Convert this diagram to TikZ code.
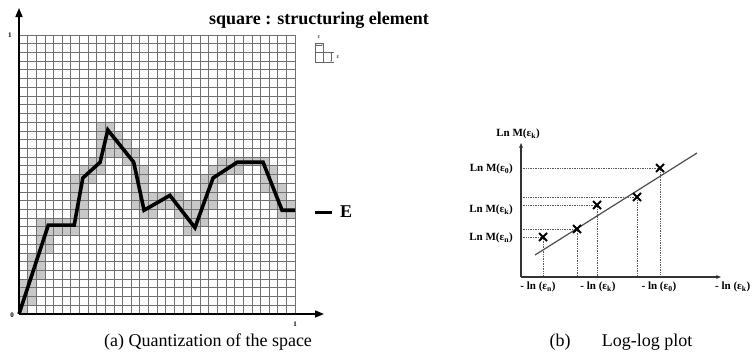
\documentclass[tikz,border=0pt]{standalone}
\usepackage{fontspec}
\setmainfont{Liberation Serif}
\usetikzlibrary{arrows.meta}
\definecolor{cellgray}{HTML}{C8C8C8}
\definecolor{gridgray}{HTML}{707070}
\begin{document}
\begin{tikzpicture}[x=1pt,y=-1pt,
  gridline/.style={gridgray,line width=0.75pt},
  curve/.style={black,line width=3.6pt,line join=miter,miter limit=4},
  axisA/.style={black,line width=1.6pt,-{Triangle[length=9pt,width=7pt]}},
  axisB/.style={black!80,line width=1.1pt,-{Stealth[length=5pt,width=4pt]}},
  dotline/.style={black!65,line width=0.7pt,densely dotted},
  regline/.style={black!70,line width=1.2pt},
  xmark/.style={black,line width=1.8pt},
  capt/.style={font=\fontsize{18}{20}\selectfont,inner sep=0pt,anchor=base},
  lbl/.style={font=\bfseries\fontsize{11}{12}\selectfont,inner sep=0pt},
  ticklbl/.style={font=\bfseries\fontsize{7}{8}\selectfont,inner sep=0pt},
  tinylbl/.style={font=\fontsize{6}{7}\selectfont,inner sep=0pt},
  elem/.style={black!60,line width=0.5pt}]
\useasboundingbox (0,0) rectangle (752,354);

% ---------- left panel: quantized space ----------
\begin{scope}[shift={(19,314)}]
\begin{scope}[x=8.625pt,y=8.72pt]
  % gray cells covered by the curve (slightly dilated)
  \foreach \ax/\ay/\bx/\by in {0/0/3.4/10.2, 3.4/10.2/6.4/10.2, 6.4/10.2/7.4/15.6,
      7.4/15.6/9.4/17.4, 9.4/17.4/10.3/21.1, 10.3/21.1/13.3/17.4, 13.3/17.4/14.5/11.9,
      14.5/11.9/17.5/13.6, 17.5/13.6/20.4/9.9, 20.4/9.9/22.5/15.6, 22.5/15.6/25.3/17.4,
      25.3/17.4/28.3/17.4, 28.3/17.4/30.5/11.9, 30.5/11.9/32/11.9} {
    \foreach \t in {0,0.05,...,1.0} {
      \foreach \dx/\dy in {-0.35/-0.35, 0.35/0.35, -0.35/0.35, 0.35/-0.35} {
        \pgfmathsetmacro\ci{max(0,min(31,floor(\ax+\t*(\bx-\ax)+\dx)))}
        \pgfmathsetmacro\cj{max(0,min(31,floor(\ay+\t*(\by-\ay)+\dy)))}
        \fill[cellgray] (\ci,\cj) rectangle ++(1,1);
      }
    }
  }
  % grid
  \foreach \k in {0,...,32} {
    \draw[gridline] (\k,0) -- (\k,32);
    \draw[gridline] (0,\k) -- (32,\k);
  }
  % curve E
  \draw[curve] (0,0) -- (3.4,10.2) -- (6.4,10.2) -- (7.4,15.6) -- (9.4,17.4) -- (10.3,21.1)
     -- (13.3,17.4) -- (14.5,11.9) -- (17.5,13.6) -- (20.4,9.9) -- (22.5,15.6)
     -- (25.3,17.4) -- (28.3,17.4) -- (30.5,11.9) -- (32,11.9);
\end{scope}
\end{scope}

\coordinate (orig) at (19,314);
\coordinate (ytop) at (19,8);
\coordinate (xend) at (324,314);
\draw[axisA] (orig) -- (ytop);
\draw[axisA] (orig) -- (xend);
\node[ticklbl] (one-y) at (10,35) {1};
\node[ticklbl] (zero) at (12,315) {0};
\node[ticklbl] (one-x) at (295,324) {1};

% E legend
\coordinate (e1) at (315,212);
\coordinate (e2) at (332,212);
\draw[black,line width=3pt] (e1) -- (e2);
\node[font=\bfseries\fontsize{18}{20}\selectfont,inner sep=0pt,anchor=west] (E) at (340,212) {E};

% title and structuring element
\node[capt,font=\bfseries\fontsize{18}{20}\selectfont] (title) at (319,24) {square : structuring element};
\draw[elem] (315,43) rectangle (323,62);
\draw[elem] (315,52) -- (334,52);
\draw[elem] (323,62) -- (334,62);
\draw[elem,{Stealth[length=1.5pt]}-{Stealth[length=1.5pt]}] (315,45) -- (323,45);
\draw[elem,{Stealth[length=1.5pt]}-{Stealth[length=1.5pt]}] (331,52) -- (331,62);
\node[tinylbl] (eps1) at (319,37) {ε};
\node[tinylbl] (eps2) at (338,57) {ε};

\node[capt] (capA) at (208,346) {(a) Quantization of the space};

% ---------- right panel: log-log plot ----------
\coordinate (O) at (521,277);
\coordinate (yt) at (521,143);
\coordinate (xt) at (721,277);
\coordinate (c1) at (543,237);
\coordinate (c2) at (577,229);
\coordinate (c3) at (597,205);
\coordinate (c4) at (637,197);
\coordinate (c5) at (660,168);
\coordinate (r1) at (535,255);
\coordinate (r2) at (697,153);

\foreach \c in {c1,c2,c3,c4,c5} {
  \draw[dotline] (O |- \c) -- (\c) -- (\c |- O);
}
\draw[regline] (r1) -- (r2);
\foreach \c in {c1,c2,c3,c4,c5} {
  \draw[xmark] ([shift={(-4,-4)}]\c) -- ([shift={(4,4)}]\c);
  \draw[xmark] ([shift={(-4,4)}]\c) -- ([shift={(4,-4)}]\c);
}
\draw[axisB] (O) -- (yt);
\draw[axisB] (O) -- (xt);

\node[lbl] (ylab) at (518,134) {Ln M(ε\textsubscript{k})};
\node[lbl,anchor=east] (l0) at (513,169) {Ln M(ε\textsubscript{0})};
\node[lbl,anchor=east] (lk) at (513,210) {Ln M(ε\textsubscript{k})};
\node[lbl,anchor=east] (ln) at (513,238) {Ln M(ε\textsubscript{n})};

\node[lbl] (bn) at (538,287) {- ln (ε\textsubscript{n})};
\node[lbl] (bk) at (598,287) {- ln (ε\textsubscript{k})};
\node[lbl] (b0) at (659,287) {- ln (ε\textsubscript{0})};
\node[lbl,anchor=west] (bx) at (715,287) {- ln (ε\textsubscript{k})};

\node[capt] (capB1) at (560,346) {(b)};
\node[capt] (capB2) at (647,346) {Log-log plot};
\end{tikzpicture}
\end{document}
